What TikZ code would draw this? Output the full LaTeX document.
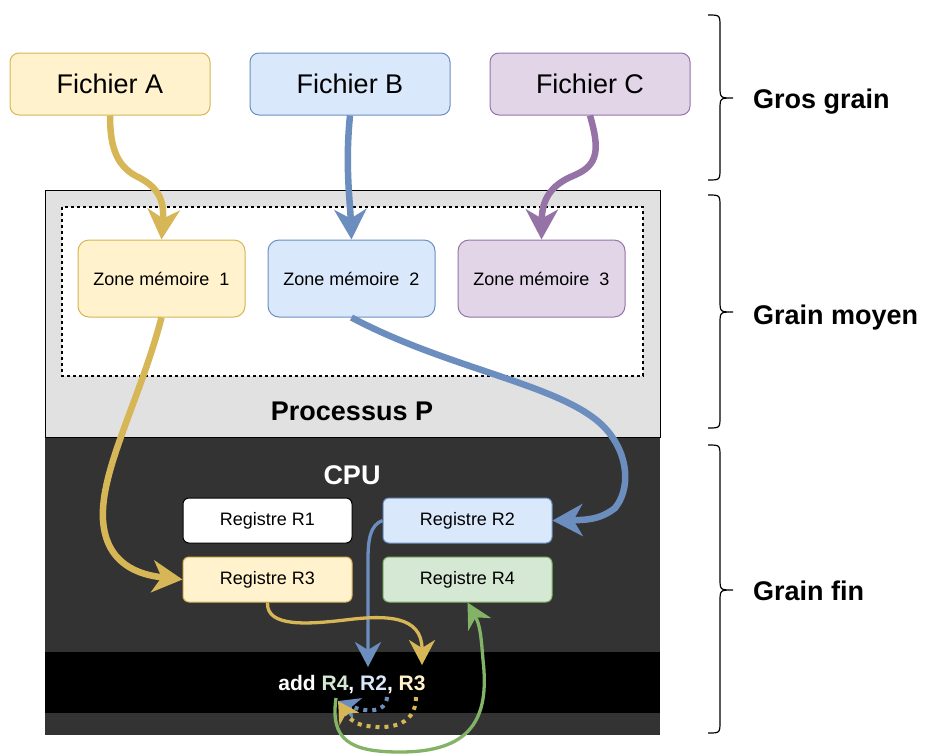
\documentclass[tikz,border=0pt]{standalone}
\usepackage{fontspec}
\setmainfont{Liberation Sans}
\usetikzlibrary{arrows.meta}
\definecolor{yfill}{HTML}{FFF2CC}\definecolor{ydraw}{HTML}{D6B656}
\definecolor{bfill}{HTML}{DAE8FC}\definecolor{bdraw}{HTML}{6C8EBF}
\definecolor{pfill}{HTML}{E1D5E7}\definecolor{pdraw}{HTML}{9673A6}
\definecolor{gfill}{HTML}{D5E8D4}\definecolor{gdraw}{HTML}{82B366}
\definecolor{procgrey}{HTML}{E1E1E1}
\definecolor{cpugrey}{HTML}{333333}
\begin{document}
\begin{tikzpicture}[x=1pt,y=-1pt,
  box/.style={draw, line width=1pt, inner sep=0pt, align=center},
  filebox/.style={box, rounded corners=9pt, minimum width=200pt, minimum height=62pt,
    font=\fontsize{27}{32}\selectfont},
  zonebox/.style={box, rounded corners=11pt, minimum width=167pt, minimum height=77pt,
    font=\fontsize{18}{21}\selectfont},
  regbox/.style={box, rounded corners=6pt, minimum width=169pt, minimum height=45pt,
    font=\fontsize{18}{21}\selectfont},
  bigbold/.style={inner sep=0pt, font=\fontsize{27}{32}\selectfont\bfseries},
  flow/.style={line width=6.5pt, -{Stealth[length=30pt,width=32pt,inset=9pt]}},
  thinflow/.style={line width=3.3pt, -{Stealth[length=25pt,width=26pt,inset=8pt]}},
  dotflow/.style={line width=4pt, dash pattern=on 4pt off 5pt,
    -{Stealth[length=21pt,width=23pt,inset=6pt]}},
  brace/.style={line width=1.2pt, black}]
\useasboundingbox (0,0) rectangle (925,755);

% process and CPU areas
\fill[cpugrey] (45,437) rectangle (660,735);
\draw[fill=procgrey, line width=1pt] (45,190) rectangle (660,437);
\fill[black] (45,652) rectangle (660,713);
\draw[dash pattern=on 3pt off 3pt, line width=1.1pt, fill=white] (62,207) rectangle (643,376);

% files
\node[filebox, fill=yfill, draw=ydraw] (fa) at (110,84) {Fichier A};
\node[filebox, fill=bfill, draw=bdraw] (fb) at (350,84) {Fichier B};
\node[filebox, fill=pfill, draw=pdraw] (fc) at (590,84) {Fichier C};

% memory zones
\node[zonebox, fill=yfill, draw=ydraw] (z1) at (161.5,278.5) {Zone mémoire~~1};
\node[zonebox, fill=bfill, draw=bdraw] (z2) at (351.5,278.5) {Zone mémoire~~2};
\node[zonebox, fill=pfill, draw=pdraw] (z3) at (541.5,278.5) {Zone mémoire~~3};

\node[bigbold, anchor=base] (proc) at (352,420.5) {Processus P};
\node[bigbold, anchor=base, text=white] (cpu) at (352,484) {CPU};

% registers
\node[regbox, fill=white, draw=black] (r1) at (267.5,520.5) {Registre R1};
\node[regbox, fill=bfill, draw=bdraw] (r2) at (467.5,520.5) {Registre R2};
\node[regbox, fill=yfill, draw=ydraw] (r3) at (267.5,579.5) {Registre R3};
\node[regbox, fill=gfill, draw=gdraw] (r4) at (467.5,579.5) {Registre R4};

% instruction
\node[inner sep=0pt, anchor=base, text=white, font=\fontsize{21}{24}\selectfont\bfseries] (instr)
  at (352,690) {add \textcolor{gfill}{R4}, \textcolor{bfill}{R2}, \textcolor{yfill}{R3}};
\coordinate (inR2) at (368,667);
\coordinate (inR3) at (422,665);
\coordinate (outR4) at (336,698);
\coordinate (srcR2) at (387,697);
\coordinate (srcR3) at (416,697);
\coordinate (dstR4) at (338,701);

% file -> zone
\draw[flow, ydraw] (fa.south) .. controls (110,150) and (118,168) .. (140,178)
  .. controls (162,190) and (164,205) .. (z1.north);
\draw[flow, bdraw] (fb.south) .. controls (345,165) and (350,200) .. (z2.north);
\draw[flow, pdraw] (fc.south) .. controls (600,150) and (598,165) .. (575,175)
  .. controls (550,185) and (542,200) .. (z3.north);

% zone -> register
\draw[flow, ydraw] (z1.south) .. controls (140,400) and (100,470) .. (103,520)
  .. controls (106,565) and (140,575) .. (r3.west);
\draw[flow, bdraw] (z2.south) .. controls (450,370) and (565,385) .. (605,428)
  .. controls (630,455) and (630,490) .. (615,508)
  .. controls (600,520) and (585,520) .. (r2.east);

% register <-> instruction
\draw[thinflow, bdraw] (r2.west) .. controls (370,525) and (368,540) .. (368,560) -- (inR2);
\draw[thinflow, ydraw] (r3.south) .. controls (266,628) and (310,624) .. (345,620)
  .. controls (385,615) and (422,615) .. (inR3);
\draw[thinflow, gdraw] (outR4) .. controls (330,740) and (350,752) .. (400,752)
  .. controls (470,752) and (490,720) .. (483,660)
  .. controls (481,635) and (480,625) .. (r4.south);
\draw[dotflow, bdraw] (srcR2) .. controls (386,714) and (365,712) .. (dstR4);
\draw[dotflow, ydraw] (srcR3) .. controls (416,728) and (385,730) .. (362,725)
  .. controls (350,722) and (345,712) .. (dstR4);

% granularity braces
\draw[brace] (708,15) .. controls (720,15) .. (720,27) -- (720,86)
  .. controls (720,98) .. (733,98) .. controls (720,98) .. (720,110)
  -- (720,168) .. controls (720,180) .. (708,180);
\draw[brace] (708,195) .. controls (720,195) .. (720,207) -- (720,300)
  .. controls (720,312) .. (733,312) .. controls (720,312) .. (720,324)
  -- (720,416) .. controls (720,428) .. (708,428);
\draw[brace] (708,445) .. controls (720,445) .. (720,457) -- (720,578)
  .. controls (720,590) .. (733,590) .. controls (720,590) .. (720,602)
  -- (720,721) .. controls (720,733) .. (708,733);
\node[bigbold, anchor=base west] (gros) at (753,108.5) {Gros grain};
\node[bigbold, anchor=base west] (moyen) at (753,324) {Grain moyen};
\node[bigbold, anchor=base west] (fin) at (753,600) {Grain fin};
\end{tikzpicture}
\end{document}
